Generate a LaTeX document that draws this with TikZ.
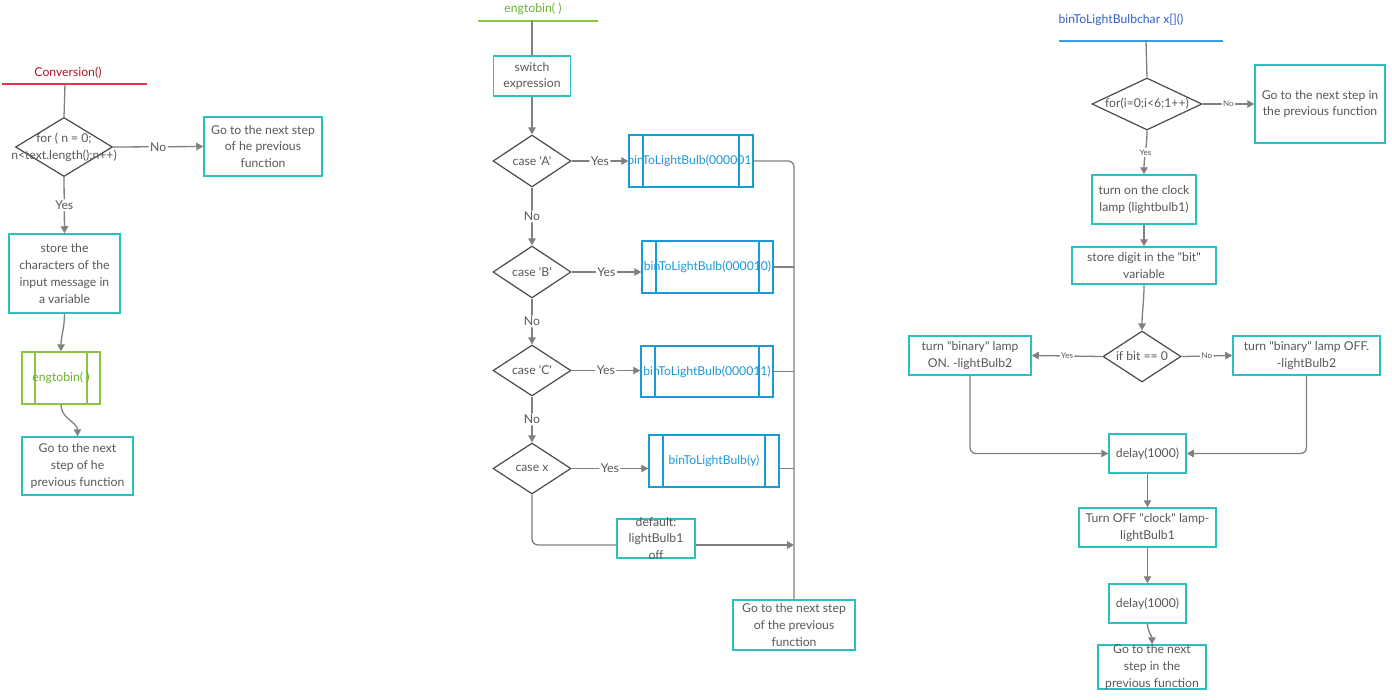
\documentclass[tikz,border=0pt]{standalone}
\usepackage{fontspec}
\setmainfont{Lato}[Ligatures=TeXOff]
\usetikzlibrary{shapes.geometric,arrows.meta}

\definecolor{txtgray}{HTML}{585858}
\definecolor{lgray}{HTML}{808080}
\definecolor{dgray}{HTML}{4A4A4A}
\definecolor{tealbox}{HTML}{2CBFC2}
\definecolor{subblue}{HTML}{1B9AD8}
\definecolor{subgreen}{HTML}{8CC63F}
\definecolor{greentxt}{HTML}{6AB22E}
\definecolor{redtxt}{HTML}{B0122B}
\definecolor{redline}{HTML}{E8334F}
\definecolor{bluetxt}{HTML}{2F5FC4}
\definecolor{blueline}{HTML}{3A9EE0}

\begin{document}
\begin{tikzpicture}[x=1pt,y=-1pt,
  base/.style={font=\fontsize{12.2}{16.8}\selectfont, text=txtgray, align=center},
  procbox/.style={base, draw=tealbox, line width=1.5pt, inner sep=0pt, fill=white},
  sidebars/.style 2 args={path picture={
    \draw[#1, line width=1.5pt]
      ([xshift=#2]path picture bounding box.north west) -- ([xshift=#2]path picture bounding box.south west)
      ([xshift=-#2]path picture bounding box.north east) -- ([xshift=-#2]path picture bounding box.south east);}},
  subbox/.style={base, draw=subblue, line width=1.5pt, inner sep=0pt, fill=white, text=subblue,
    sidebars={subblue}{14pt}},
  greenbox/.style={base, draw=subgreen, line width=1.5pt, inner sep=0pt, fill=white, text=greentxt,
    sidebars={subgreen}{13pt}},
  decision/.style={diamond, draw=dgray, line width=1.2pt, inner sep=0pt, fill=white},
  inner/.style={base, inner sep=0pt},
  conn/.style={draw=lgray, line width=1.3pt, rounded corners=6pt},
  arr/.style={conn, -{Triangle[length=7pt,width=7.5pt]}},
  lbl/.style={base, fill=white, inner sep=1.5pt},
  slbl/.style={lbl, font=\fontsize{8}{9}\selectfont},
  titleline/.style={line width=1.3pt},
]
\useasboundingbox (0,0) rectangle (1392,699);

% ---------------- Conversion() ----------------
\node[base, text=redtxt] (ttl1) at (68,73) {Conversion()};
\draw[titleline, redline] (2,84) -- (147,84);
\coordinate (t1) at (65,84);

\node[decision, minimum width=97pt, minimum height=59pt,
      label={[inner]center:for ( n = 0;\\n<text.length();n++)}] (d1) at (64,147) {};
\node[procbox, minimum width=118pt, minimum height=59pt] (go1) at (263,146.5)
  {Go to the next step\\of he previous\\function};
\node[procbox, minimum width=111pt, minimum height=79pt] (st1) at (64.5,273.5)
  {store the\\characters of the\\input message in\\a variable};
\node[greenbox, minimum width=78pt, minimum height=52pt] (eng) at (61,378) {engtobin( )};
\node[procbox, minimum width=111pt, minimum height=58pt] (go1b) at (77.5,466)
  {Go to the next\\step of he\\previous function};

\draw[conn] (t1) -- (d1.north);
\draw[arr] (d1.east) -- node[lbl] {No} (go1.west);
\draw[arr] (d1.south) -- node[lbl] {Yes} (st1.north);
\draw[arr] (st1.south) to[out=-90,in=90] (eng.north);
\draw[arr] (eng.south) to[out=-90,in=90] (go1b.north);

% ---------------- engtobin( ) ----------------
\node[base, text=greentxt] (ttl2) at (533,9) {engtobin( )};
\draw[titleline, subgreen] (478,21) -- (598,21);
\coordinate (t2) at (532,21);

\node[procbox, minimum width=77pt, minimum height=40pt] (sw) at (532,76) {switch\\expression};

\node[decision, minimum width=78pt, minimum height=52pt, label={[inner]center:case 'A'}] (dA) at (532,161) {};
\node[decision, minimum width=78pt, minimum height=52pt, label={[inner]center:case 'B'}] (dB) at (532,272) {};
\node[decision, minimum width=78pt, minimum height=51pt, label={[inner]center:case 'C'}] (dC) at (532,370.5) {};
\node[decision, minimum width=78pt, minimum height=51pt, label={[inner]center:case x}] (dX) at (532,468.5) {};

\node[subbox, minimum width=124pt, minimum height=52pt,
      label={[inner, text=subblue]center:binToLightBulb(000001)}] (bA) at (691,161) {};
\node[subbox, minimum width=131pt, minimum height=52pt,
      label={[inner, text=subblue]center:binToLightBulb(000010)}] (bB) at (707.5,267) {};
\node[subbox, minimum width=132pt, minimum height=51pt,
      label={[inner, text=subblue]center:binToLightBulb(000011)}] (bC) at (707,371.5) {};
\node[subbox, minimum width=130pt, minimum height=52pt] (bX) at (714,461) {binToLightBulb(y)};

\node[procbox, minimum width=78pt, minimum height=39pt,
      label={[inner]center:default:\\lightBulb1\\off}] (def) at (656,538.5) {};
\node[procbox, minimum width=122pt, minimum height=50pt] (go2) at (794,625)
  {Go to the next step\\of the previous\\function};

\draw[conn] (t2) -- (sw.north);
\draw[arr] (sw.south) -- (dA.north);
\draw[arr] (dA.east) -- node[lbl] {Yes} (bA.west);
\draw[arr] (dB.east) -- node[lbl] {Yes} (bB.west |- dB.east);
\draw[arr] (dC.east) -- node[lbl] {Yes} (bC.west |- dC.east);
\draw[arr] (dX.east) -- node[lbl] {Yes} (bX.west |- dX.east);
\draw[arr] (dA.south) -- node[lbl] {No} (dB.north);
\draw[arr] (dB.south) -- node[lbl] {No} (dC.north);
\draw[arr] (dC.south) -- node[lbl] {No} (dX.north);
\draw[conn] (dX.south) |- ([yshift=-6.5pt]def.west);
\draw[conn] (bA.east) -- (bA.east -| go2.north) -- (go2.north);
\draw[conn] (bB.east) -- (bB.east -| go2.north);
\draw[conn] (bC.east) -- (bC.east -| go2.north);
\draw[conn] (bX.east |- dX.east) -- (dX.east -| go2.north);
\draw[arr] ([yshift=-6.5pt]def.east) -- ([yshift=-6.5pt]def.east -| go2.north);

% ---------------- binToLightBulbchar x[]() ----------------
\node[base, text=bluetxt] (ttl3) at (1121,20) {binToLightBulbchar x[]()};
\draw[titleline, blueline] (1059,41) -- (1223,41);
\coordinate (t3) at (1146,41);

\node[decision, minimum width=110pt, minimum height=52pt,
      label={[inner]center:for(i=0;i<6;1++)}] (dF) at (1147,104) {};
\node[procbox, minimum width=130pt, minimum height=78pt] (go3) at (1320,104)
  {Go to the next step in\\the previous function};
\node[procbox, minimum width=104pt, minimum height=49pt] (clk) at (1144,199.5)
  {turn on the clock\\lamp (lightbulb1)};
\node[procbox, minimum width=144pt, minimum height=37pt] (sd) at (1144,265.5)
  {store digit in the "bit"\\variable};
\node[decision, minimum width=78pt, minimum height=51pt,
      label={[inner]center:if bit == 0}] (dBit) at (1142,356.5) {};
\node[procbox, minimum width=122pt, minimum height=39pt] (on) at (970,355.5)
  {turn "binary" lamp\\ON. -lightBulb2};
\node[procbox, minimum width=147pt, minimum height=39pt] (off) at (1306.5,355.5)
  {turn "binary" lamp OFF.\\-lightBulb2};
\node[procbox, minimum width=77pt, minimum height=39pt] (dl1) at (1147.5,453.5) {delay(1000)};
\node[procbox, minimum width=137pt, minimum height=39pt] (toff) at (1147.5,527.5)
  {Turn OFF "clock" lamp-\\lightBulb1};
\node[procbox, minimum width=77pt, minimum height=39pt] (dl2) at (1147.5,603.5) {delay(1000)};
\node[procbox, minimum width=108pt, minimum height=44pt,
      label={[inner]center:Go to the next\\step in the\\previous function}] (go4) at (1152,667) {};

\draw[conn] (t3) -- (dF.north);
\draw[arr] (dF.east) -- node[slbl] {No} (go3.west);
\draw[arr] (dF.south) to[out=-90,in=90] node[slbl] {Yes} (clk.north);
\draw[arr] (clk.south) -- (sd.north);
\draw[arr] (sd.south) to[out=-90,in=90] (dBit.north);
\draw[arr] (dBit.west) -- node[slbl] {Yes} (on.east);
\draw[arr] (dBit.east) -- node[slbl] {No} (off.west);
\draw[arr] (on.south) |- (dl1.west);
\draw[arr] (off.south) |- (dl1.east);
\draw[arr] (dl1.south) -- (toff.north);
\draw[arr] (toff.south) -- (dl2.north);
\draw[arr] (dl2.south) to[out=-90,in=90] (go4.north);
\end{tikzpicture}
\end{document}
